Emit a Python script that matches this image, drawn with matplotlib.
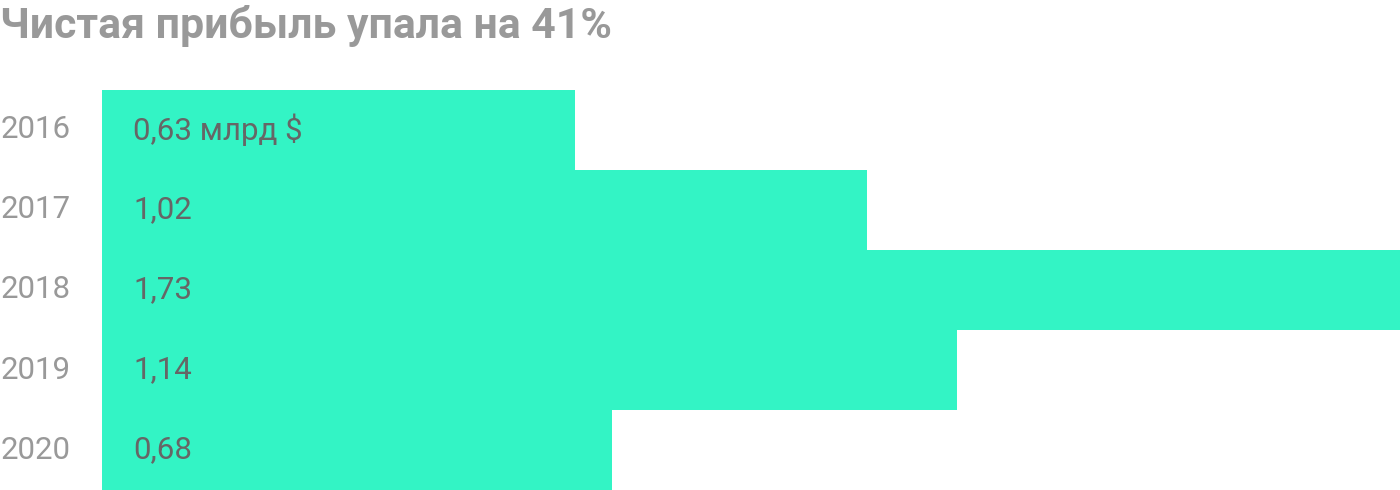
import matplotlib.pyplot as plt

years = ['2016', '2017', '2018', '2019', '2020']
profit = [0.63, 1.02, 1.73, 1.14, 0.68]
labels = ['0,63 млрд $', '1,02', '1,73', '1,14', '0,68']

plt.rcParams['font.family'] = ['Roboto', 'DejaVu Sans']

fig = plt.figure(figsize=(14, 4.9), dpi=100)
ax = fig.add_axes([102 / 1400, 0, 1 - 102 / 1400, 400 / 490])

ax.barh(range(len(years)), profit, height=1.0, color='#33f4c5')
ax.set_xlim(0, max(profit))
ax.set_ylim(len(years) - 0.5, -0.5)
ax.axis('off')

for i, (y, lab) in enumerate(zip(years, labels)):
    ax.annotate(y, xy=(0, i), xycoords='data', xytext=(-31, 0), textcoords='offset pixels',
                ha='right', va='center', fontsize=22.5, color='#999999')
    ax.annotate(lab, xy=(0, i), xycoords='data', xytext=(31, 0), textcoords='offset pixels',
                ha='left', va='center', fontsize=22.5, color='#666666')

fig.text(0, 1 - 38 / 490, 'Чистая прибыль упала на 41%', ha='left', va='baseline',
         fontsize=30.8, fontweight='bold', color='#999999')

fig.savefig('out.png', dpi=100)
